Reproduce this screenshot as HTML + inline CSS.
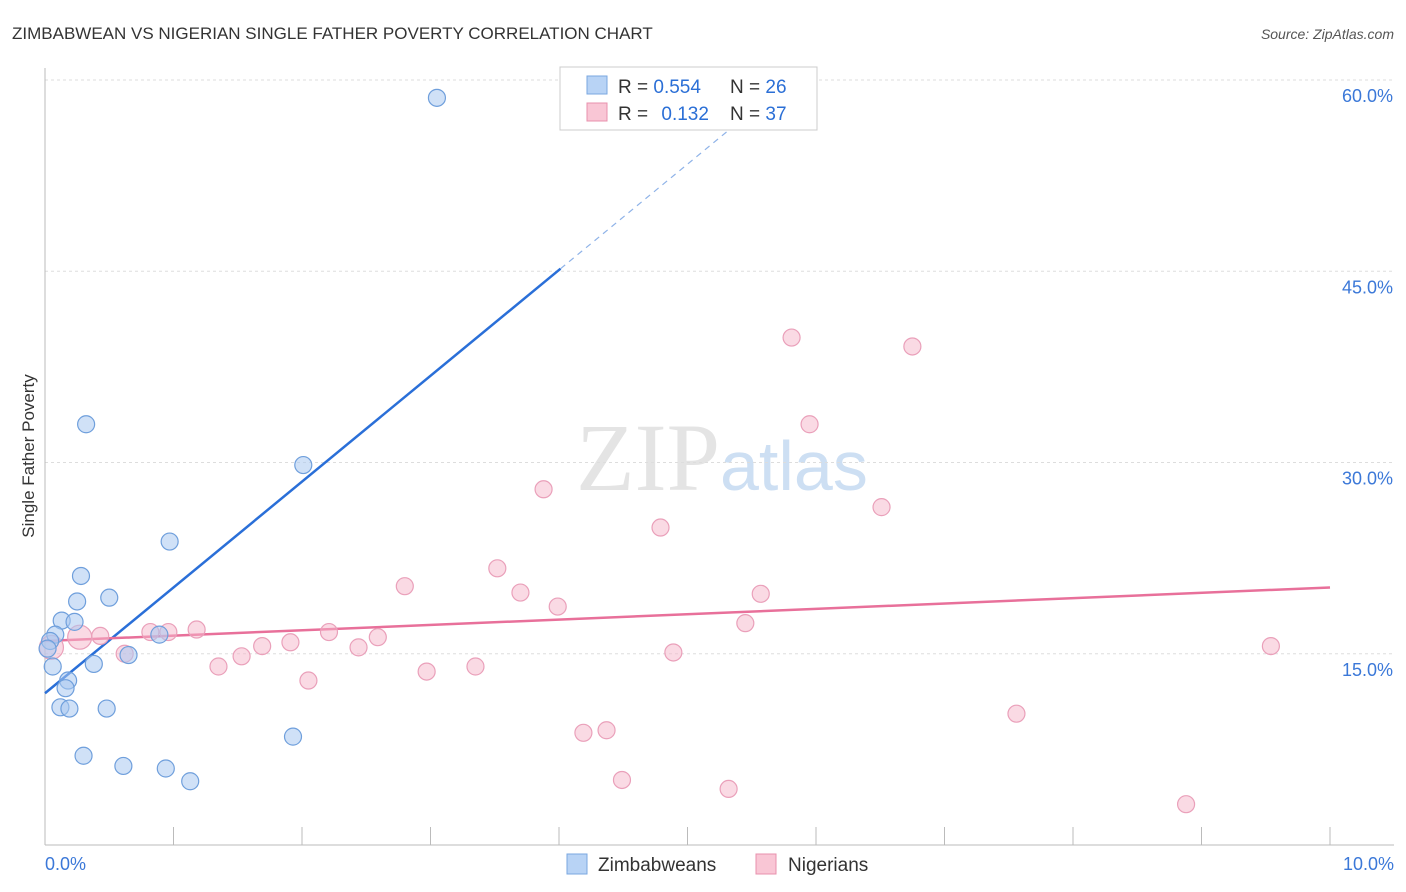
<!DOCTYPE html>
<html><head><meta charset="utf-8"><style>
body{margin:0;background:#fff;font-family:"Liberation Sans",sans-serif;}
svg{display:block}
</style></head><body>
<svg id="chart" width="1406" height="892">
<text x="12" y="39" font-size="17" fill="#333">ZIMBABWEAN VS NIGERIAN SINGLE FATHER POVERTY CORRELATION CHART</text>
<text x="1394" y="39" font-size="14" fill="#555" font-style="italic" text-anchor="end">Source: ZipAtlas.com</text>
<text x="34" y="456" font-size="17" fill="#333" transform="rotate(-90 34 456)" text-anchor="middle">Single Father Poverty</text>
<text x="720" y="490" font-size="96" fill="#e4e4e4" text-anchor="end" font-family="Liberation Serif,serif">ZIP</text>
<text x="720" y="490" font-size="70" fill="#cddff3">atlas</text>
<g id="grid"></g><g id="axes"></g><g id="lines"></g><g id="points"></g>
<g>
<rect x="560" y="67" width="257" height="63" fill="#fff" stroke="#ccc"/>
<rect x="587" y="76" width="20" height="18" fill="#b8d3f5" stroke="#7aa7e0"/>
<rect x="587" y="103" width="20" height="18" fill="#f9c6d5" stroke="#e890ad"/>
<text x="618" y="93" font-size="19" fill="#333">R = <tspan fill="#2b6fd6">0.554</tspan></text>
<text x="730" y="93" font-size="19" fill="#333">N = <tspan fill="#2b6fd6">26</tspan></text>
<text x="618" y="120" font-size="19" fill="#333">R = <tspan fill="#2b6fd6" dx="8">0.132</tspan></text>
<text x="730" y="120" font-size="19" fill="#333">N = <tspan fill="#2b6fd6">37</tspan></text>
</g>
<g>
<rect x="567" y="854" width="20" height="20" fill="#b8d3f5" stroke="#7aa7e0"/>
<text x="598" y="871" font-size="19" fill="#333">Zimbabweans</text>
<rect x="756" y="854" width="20" height="20" fill="#f9c6d5" stroke="#e890ad"/>
<text x="788" y="871" font-size="19" fill="#333">Nigerians</text>
</g>
</svg>
<script>
const xTicks=[0,1,2,3,4,5,6,7,8,9,10];
const yTicks=[15,30,45,60];
const blueX=[3.05,0.32,2.01,0.97,0.28,0.50,0.25,0.13,0.23,0.08,0.89,0.04,0.02,0.65,0.38,0.06,0.18,0.16,0.12,0.19,0.48,0.30,0.61,0.94,1.13,1.93];
const blueY=[58.6,33.0,29.8,23.8,21.1,19.4,19.1,17.6,17.5,16.5,16.5,16.0,15.4,14.9,14.2,14.0,12.9,12.3,10.8,10.7,10.7,7.0,6.2,6.0,5.0,8.5];
const pinkX=[5.81,6.75,5.95,3.88,6.51,4.79,3.52,2.80,3.70,5.57,3.99,5.45,1.18,0.82,0.96,2.21,2.59,1.91,1.69,2.44,1.53,0.62,1.35,2.97,3.35,4.89,2.05,9.54,7.56,4.37,4.19,4.49,5.32,8.88,0.27,0.43,0.05];
const pinkY=[39.8,39.1,33.0,27.9,26.5,24.9,21.7,20.3,19.8,19.7,18.7,17.4,16.9,16.7,16.7,16.7,16.3,15.9,15.6,15.5,14.8,15.0,14.0,13.6,14.0,15.1,12.9,15.6,10.3,9.0,8.8,5.1,4.4,3.2,16.3,16.4,15.5];
const blueTrend=[11.9,8.3];
const pinkTrend=[16.0,0.42];
const NS="http://www.w3.org/2000/svg";
const sx=v=>45+v*128.5, sy=v=>845-v*12.75;
function mk(tag,attrs,parent){const e=document.createElementNS(NS,tag);for(const k in attrs)e.setAttribute(k,attrs[k]);document.getElementById(parent).appendChild(e);return e;}
yTicks.forEach(t=>{
 const l=mk('line',{x1:45,x2:1394,y1:sy(t),y2:sy(t),stroke:'#ddd','stroke-dasharray':'3,3'},'grid');
 
 
 const tx=mk('text',{x:1393,y:sy(t)+22,'font-size':18,fill:'#3b78d8','text-anchor':'end'},'grid');
 tx.textContent=t.toFixed(1)+'%';
 
 
});
mk('line',{x1:45,x2:45,y1:68,y2:845,stroke:'#bbb'},'axes');
mk('line',{x1:45,x2:1394,y1:845,y2:845,stroke:'#bbb'},'axes');
xTicks.forEach(t=>{
 const l=mk('line',{x1:sx(t),x2:sx(t),y1:827,y2:845,stroke:'#bbb'},'axes');
 
 
});
[[0,'0.0%','start',45],[10,'10.0%','end',1394]].forEach(([t,s,a,x])=>{
 const tx=mk('text',{x:x,y:870,'font-size':18,fill:'#3b78d8','text-anchor':a},'axes');
 tx.textContent=s;
 
 
});
// trend lines
const xEnd=(45.2-blueTrend[0])/blueTrend[1];
let bl=mk('line',{x1:sx(0),y1:sy(blueTrend[0]),x2:sx(xEnd),y2:sy(blueTrend[0]+blueTrend[1]*xEnd),stroke:'#2a6fd8','stroke-width':2.5},'lines');


const x2=(60-blueTrend[0])/blueTrend[1];
let bd=mk('line',{x1:sx(xEnd),y1:sy(blueTrend[0]+blueTrend[1]*xEnd),x2:sx(x2),y2:sy(60),stroke:'#8fb3e8','stroke-width':1.2,'stroke-dasharray':'6,5'},'lines');


let pl=mk('line',{x1:sx(0),y1:sy(pinkTrend[0]),x2:sx(10),y2:sy(pinkTrend[0]+pinkTrend[1]*10),stroke:'#e8709a','stroke-width':2.5},'lines');


pinkX.forEach((x,i)=>{
 const r=i>=34&&i!==35?12:8.5;
 const c=mk('circle',{cx:sx(x),cy:sy(pinkY[i]),r:r,fill:'rgba(246,182,202,0.5)',stroke:'#eaa0ba','stroke-width':1.2},'points');
 
 
});
blueX.forEach((x,i)=>{
 const c=mk('circle',{cx:sx(x),cy:sy(blueY[i]),r:8.5,fill:'rgba(170,200,240,0.55)',stroke:'#6f9fdc','stroke-width':1.2},'points');
 
 
});
</script>
</body></html>
